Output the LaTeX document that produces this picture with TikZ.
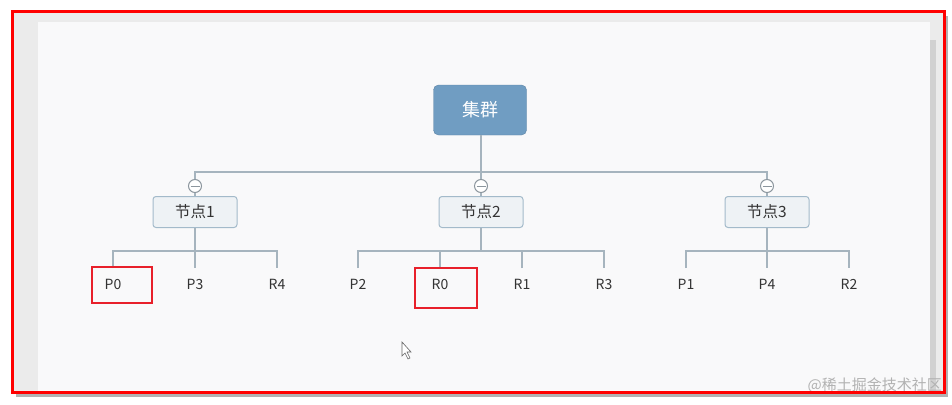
\documentclass[tikz,border=0pt]{standalone}
\usepackage{fontspec}
\setmainfont{Noto Sans CJK SC}
\begin{document}
\begin{tikzpicture}[x=1pt,y=-1pt,
  rootbox/.style={draw=rootblue!85!black, fill=rootblue, rounded corners=5pt, minimum width=93pt, minimum height=50pt, text=white, font=\fontsize{18}{18}\selectfont, inner sep=0pt},
  midbox/.style={draw=midborder, fill=midfill, rounded corners=3pt, minimum width=84pt, minimum height=31pt, text=black!80, font=\fontsize{15.5}{15.5}\selectfont, inner sep=0pt, line width=1pt},
  leaf/.style={text=black!80, font=\fontsize{14}{14}\selectfont, inner sep=1pt},
  conn/.style={draw=linegrey, line width=1.1pt},
  toggle/.style={circle, draw=togglegrey, fill=white, line width=1pt, minimum size=13pt, inner sep=0pt},
  hilite/.style={draw=hired, line width=1.6pt},
]
\definecolor{rootblue}{HTML}{709DC2}
\definecolor{midborder}{HTML}{A3BACA}
\definecolor{midfill}{HTML}{EEF2F5}
\definecolor{linegrey}{HTML}{A6B4BE}
\definecolor{togglegrey}{HTML}{8C969E}
\definecolor{hired}{HTML}{E8202A}
\definecolor{canvas}{HTML}{F9F9FA}
\definecolor{band}{HTML}{EBEBEB}

\useasboundingbox (0,0) rectangle (952,404);
\fill[white] (0,0) rectangle (952,404);
% shadow
\fill[black!30] (16,16) rectangle (948,397);
\fill[band] (12,12) rectangle (944,392);
\fill[black!18] (930,40) rectangle (936,392);
\fill[canvas] (38,22) rectangle (930,392);

% root
\node[rootbox] (root) at (480,110) {集群};
% mid nodes
\node[midbox] (n1) at (195,212) {节点1};
\node[midbox] (n2) at (481,212) {节点2};
\node[midbox] (n3) at (767,212) {节点3};
% toggles
\node[toggle] (t1) at (195,186) {};
\node[toggle] (t2) at (481,186) {};
\node[toggle] (t3) at (767,186) {};
\foreach \t in {t1,t2,t3}{\draw[togglegrey, line width=1pt] ([xshift=-4.5pt]\t.center) -- ([xshift=4.5pt]\t.center);}

% top connectors
\coordinate (jr) at (481,172);
\draw[conn] (root.south -| jr) -- (jr);
\draw[conn] (t1.north) |- (jr) -| (t3.north);
\draw[conn] (jr) -- (t2.north);
\draw[conn] (t1.south) -- (n1.north);
\draw[conn] (t2.south) -- (n2.north);
\draw[conn] (t3.south) -- (n3.north);

% leaves
\node[leaf] (p0) at (113,284) {P0};
\node[leaf] (p3) at (195,284) {P3};
\node[leaf] (r4) at (277,284) {R4};
\node[leaf] (p2) at (358,284) {P2};
\node[leaf] (r0) at (440,284) {R0};
\node[leaf] (r1) at (522,284) {R1};
\node[leaf] (r3) at (604,284) {R3};
\node[leaf] (p1) at (686,284) {P1};
\node[leaf] (p4) at (767,284) {P4};
\node[leaf] (r2) at (849,284) {R2};

\foreach \l in {p0,p3,r4,p2,r0,r1,r3,p1,p4,r2}{\coordinate (\l t) at ([yshift=16pt]\l.center);}

% group 1
\coordinate (j1) at (195,251);
\draw[conn] (n1.south) -- (j1);
\draw[conn] (p0t) |- (j1) -| (r4t);
\draw[conn] (j1) -- (p3t);
% group 2
\coordinate (j2) at (481,251);
\draw[conn] (n2.south) -- (j2);
\draw[conn] (p2t) |- (j2) -| (r3t);
\draw[conn] (r0t) -- (r0t |- j2);
\draw[conn] (r1t) -- (r1t |- j2);
% group 3
\coordinate (j3) at (767,251);
\draw[conn] (n3.south) -- (j3);
\draw[conn] (p1t) |- (j3) -| (r2t);
\draw[conn] (j3) -- (p4t);

% highlight boxes
\draw[hilite] (92,267) rectangle (152,303);
\draw[hilite] (415,268) rectangle (477,308);

% mouse cursor
\draw[black!60, fill=white, line width=0.6pt] (402,342) -- (402,356) -- (405,353) -- (408,359) -- (410,358) -- (407,352) -- (411,352) -- cycle;

% watermark
\node[text=black!30, font=\fontsize{15}{15}\selectfont, anchor=east, inner sep=0pt] (wm) at (942,385) {@稀土掘金技术社区};

% outer red frame
\draw[red, line width=3pt] (12,12) rectangle (944,392);
\end{tikzpicture}
\end{document}
